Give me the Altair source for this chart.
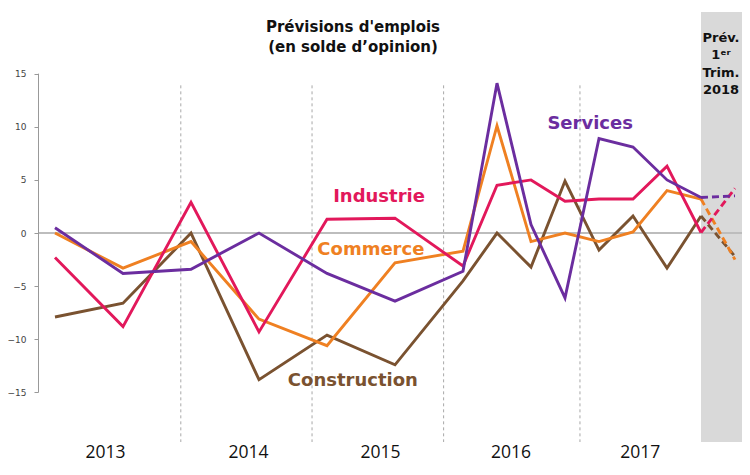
import altair as alt
import pandas as pd

# ---- data ----
t_obs = [0, 2, 4, 6, 8, 10, 12, 13, 14, 15, 16, 17, 18, 19]
industrie = [-2.3, -8.8, 2.9, -9.3, 1.3, 1.4, -3.1, 4.5, 5.0, 3.0, 3.2, 3.2, 6.3, 0.05]
services = [0.5, -3.8, -3.4, 0.0, -3.8, -6.4, -3.6, 14.1, 0.8, -6.1, 8.9, 8.1, 5.0, 3.35]
commerce = [0.0, -3.3, -0.8, -8.1, -10.6, -2.8, -1.7, 10.1, -0.8, 0.0, -0.8, 0.1, 4.0, 3.2]
construction = [-7.9, -6.6, 0.0, -13.8, -9.6, -12.4, -4.5, 0.0, -3.2, 4.9, -1.6, 1.6, -3.3, 1.6]

t_fc = [19, 20]
industrie_fc = [0.05, 4.2]
services_fc = [3.35, 3.5]
commerce_fc = [3.2, -2.5]
construction_fc = [1.6, -2.2]

series_names = ["Construction", "Commerce", "Industrie", "Services"]
series_colors = ["#7a5230", "#ef8022", "#e2185b", "#6b2d9f"]
label_colors = ["#6f4a2a", "#ec7d22", "#d6215b", "#7030a0"]
label_t = [8.76, 9.29, 9.53, 15.74]
label_v = [-13.9, -1.55, 3.39, 10.3]

years = ["2013", "2014", "2015", "2016", "2017"]
year_pos = [1.47, 5.68, 9.56, 13.4, 17.2]
sep_pos = [3.7, 7.56, 11.43, 15.44]
y_ticks = [-15, -10, -5, 0, 5, 10, 15]

title_lines = ["Prévisions d'emplois", "(en solde d’opinion)"]
box_lines = ["Prév.", "1ᵉʳ", "Trim.", "2018"]

# ---- tables ----
obs_rows = []
fc_rows = []
obs_map = dict(zip(series_names, [construction, commerce, industrie, services]))
fc_map = dict(zip(series_names, [construction_fc, commerce_fc, industrie_fc, services_fc]))
for name in series_names:
    for t, v in zip(t_obs, obs_map[name]):
        obs_rows.append({"serie": name, "t": t, "v": v})
    for t, v in zip(t_fc, fc_map[name]):
        fc_rows.append({"serie": name, "t": t, "v": v})
obs_df = pd.DataFrame(obs_rows)
fc_df = pd.DataFrame(fc_rows)

PLOT_W = 704
PLOT_H = 430
PX_PER_Y = 10.628
X_MIN = -0.5
X_MAX = X_MIN + PLOT_W / 34.0
Y_MAX = 20.8
Y_MIN = Y_MAX - PLOT_H / PX_PER_Y

xs = alt.Scale(domain=[X_MIN, X_MAX], nice=False, zero=False)
ys = alt.Scale(domain=[Y_MIN, Y_MAX], nice=False, zero=False)
cs = alt.Scale(domain=series_names, range=series_colors)

base_x_axis = alt.Axis(
    values=year_pos,
    labelExpr="toString(2013 + round((datum.value - 1.47) / 3.93))",
    domain=False, ticks=False, tickSize=0, grid=False,
    labelFont="Open Sans", labelFontSize=17.5, labelColor="#111111",
    labelPadding=1, title=None, labelFlush=False,
)
y_axis = alt.Axis(
    values=y_ticks, domain=False, ticks=True, tickSize=4, tickColor="#999999",
    grid=False, labelFont="DejaVu Sans", labelFontSize=9, labelColor="#444444",
    labelPadding=8, title=None,
)

# gray forecast box
box = alt.Chart(pd.DataFrame({"t": [19], "t2": [X_MAX], "y": [Y_MAX], "y2": [Y_MIN]})).mark_rect(
    color="#d9d9d9"
).encode(
    x=alt.X("t:Q", scale=xs, axis=base_x_axis),
    x2="t2:Q",
    y=alt.Y("y:Q", scale=ys, axis=y_axis),
    y2="y2:Q",
)

# year separators
seps = alt.Chart(pd.DataFrame({"t": sep_pos, "y": [13.9] * 4, "y2": [Y_MIN] * 4})).mark_rule(
    color="#a8a8a8", strokeWidth=1, strokeDash=[3, 3]
).encode(x=alt.X("t:Q", scale=xs), y=alt.Y("y:Q", scale=ys), y2="y2:Q")

# zero line
zero = alt.Chart(pd.DataFrame({"y": [0]})).mark_rule(color="#bdbdbd", strokeWidth=2).encode(
    y=alt.Y("y:Q", scale=ys)
)

# y axis line
yline = alt.Chart(pd.DataFrame({"y": [-15], "y2": [15]})).mark_rule(color="#999999", strokeWidth=1).encode(
    x=alt.value(0.5), y=alt.Y("y:Q", scale=ys), y2="y2:Q"
)

lines = alt.Chart(obs_df).mark_line(strokeWidth=2.9, strokeJoin="miter").encode(
    x=alt.X("t:Q", scale=xs),
    y=alt.Y("v:Q", scale=ys),
    color=alt.Color("serie:N", scale=cs, legend=None),
    order="t:Q",
)

fc_lines = alt.Chart(fc_df).mark_line(strokeWidth=2.9, strokeDash=[7, 4]).encode(
    x=alt.X("t:Q", scale=xs),
    y=alt.Y("v:Q", scale=ys),
    color=alt.Color("serie:N", scale=cs, legend=None),
    order="t:Q",
)

labels = alt.Chart(pd.DataFrame({"serie": series_names, "t": label_t, "v": label_v})).mark_text(
    font="DejaVu Sans", fontWeight="bold", fontSize=18, align="center", baseline="middle"
).encode(
    x=alt.X("t:Q", scale=xs),
    y=alt.Y("v:Q", scale=ys),
    text="serie:N",
    color=alt.Color("serie:N", scale=alt.Scale(domain=series_names, range=label_colors), legend=None),
)

title = alt.Chart(pd.DataFrame({"txt": title_lines, "py": [14.7, 34.7]})).mark_text(
    font="DejaVu Sans", fontWeight="bold", fontSize=15, align="center", baseline="middle", color="#111111"
).encode(x=alt.value(315), y=alt.Y("py:Q", scale=None), text="txt:N")

box_text = alt.Chart(pd.DataFrame({"txt": box_lines, "py": [26, 43, 61, 77.5]})).mark_text(
    font="DejaVu Sans", fontWeight="bold", fontSize=13, align="center", baseline="middle", color="#111111"
).encode(x=alt.value(683), y=alt.Y("py:Q", scale=None), text="txt:N")

chart = alt.layer(box, seps, zero, yline, lines, fc_lines, labels, title, box_text).properties(
    width=PLOT_W,
    height=PLOT_H,
    padding={"left": 30, "top": 4, "right": 0, "bottom": 21},
    autosize=alt.AutoSizeParams(type="none"),
    background="white",
).configure_view(stroke=None)

chart.save("out.html", embed_options={"renderer": "svg", "actions": False})
